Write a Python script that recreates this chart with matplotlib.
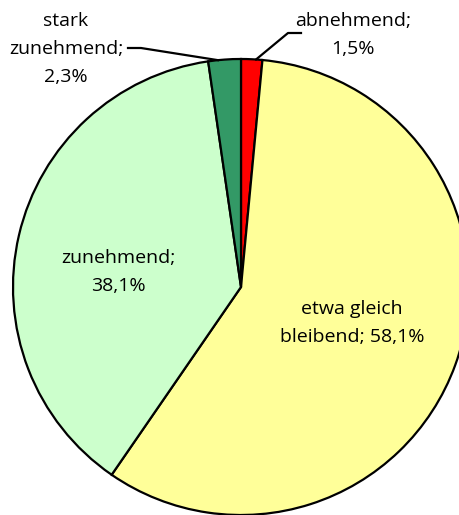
import numpy as np
import matplotlib.pyplot as plt

labels = ["abnehmend", "etwa gleich bleibend", "zunehmend", "stark zunehmend"]
shares = [1.5, 58.1, 38.1, 2.3]
colors = ["#FF0000", "#FFFF99", "#CCFFCC", "#339966"]

W, H = 459, 515
cx, cy, r = 241, H - 287, 228

fig = plt.figure(figsize=(W / 100, H / 100), dpi=100)
ax = fig.add_axes([0, 0, 1, 1])

wedges, _ = ax.pie(shares, colors=colors, startangle=90, counterclock=False,
                   center=(cx, cy), radius=r, frame=True,
                   wedgeprops=dict(edgecolor="black", linewidth=1.6))
ax.set_xlim(0, W)
ax.set_ylim(0, H)
ax.set_aspect("equal")
ax.axis("off")

font = dict(family="Open Sans", fontsize=14.0, ha="center", va="center",
            linespacing=1.7)


def fmt(v):
    return f"{v:.1f}".replace(".", ",") + "%"


# inner labels
ax.text(352, H - 323, f"etwa gleich\nbleibend; {fmt(shares[1])}", **font)
ax.text(118, H - 272, f"zunehmend;\n{fmt(shares[2])}", **font)

# outer labels with leader lines
ax.text(66, H - 49, f"stark\nzunehmend;\n{fmt(shares[3])}", **font)
ax.text(353, H - 35, f"abnehmend;\n{fmt(shares[0])}", **font)


def edge_point(w, frac=0.5, rad=1.0):
    ang = np.deg2rad(w.theta1 + (w.theta2 - w.theta1) * frac)
    return cx + r * rad * np.cos(ang), cy + r * rad * np.sin(ang)


ex, ey = edge_point(wedges[3], 0.7)
ax.plot([128, 141, ex], [H - 48, H - 48, ey], color="black", lw=1.6)
ex, ey = edge_point(wedges[0], 0.3)
ax.plot([301, 288, ex], [H - 33, H - 33, ey], color="black", lw=1.6)

fig.savefig("out.png", dpi=100)
